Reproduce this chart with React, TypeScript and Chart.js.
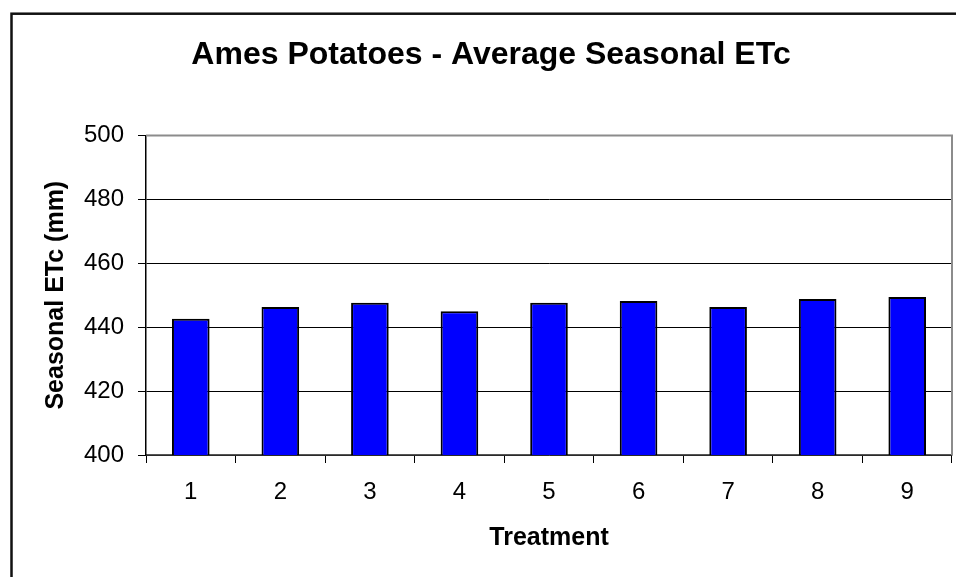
import React, { useEffect, useRef } from "react";
import { Chart, registerables } from "chart.js";

Chart.register(...registerables);

const categories = ["1", "2", "3", "4", "5", "6", "7", "8", "9"];
const seasonalETc = [442.6, 446.3, 447.6, 445.0, 447.6, 448.2, 446.3, 448.8, 449.4];
const yTicks = [400, 420, 440, 460, 480, 500];

const FONT = "'Liberation Sans', Arial, Helvetica, sans-serif";

const framePlugin = {
  id: "frame",
  beforeDraw(chart: any) {
    const ctx = chart.ctx;
    ctx.save();
    ctx.strokeStyle = "#111";
    ctx.lineWidth = 2.5;
    ctx.strokeRect(11.5, 13.7, 2000, 2000);
    ctx.restore();
  },
  beforeDatasetsDraw(chart: any) {
    const { ctx, chartArea } = chart;
    ctx.save();
    ctx.strokeStyle = "#8c8c8c";
    ctx.lineWidth = 2;
    ctx.beginPath();
    ctx.moveTo(chartArea.left, chartArea.top);
    ctx.lineTo(chartArea.right, chartArea.top);
    ctx.lineTo(chartArea.right, chartArea.bottom);
    ctx.stroke();
    ctx.restore();
  },
};

export default function App() {
  const ref = useRef<HTMLCanvasElement | null>(null);

  useEffect(() => {
    if (!ref.current) return;
    Chart.defaults.font.family = FONT;
    const chart = new Chart(ref.current, {
      type: "bar",
      data: {
        labels: categories,
        datasets: [
          {
            label: "Seasonal ETc",
            data: seasonalETc,
            backgroundColor: "#0000FF",
            borderColor: "#000000",
            borderWidth: 2,
            barPercentage: 0.42,
            categoryPercentage: 1,
          },
        ],
      },
      options: {
        responsive: false,
        animation: false,
        layout: { padding: { left: 30, right: 4, top: 0, bottom: 0 } },
        plugins: {
          legend: { display: false },
          tooltip: { enabled: false },
          title: {
            display: true,
            text: "Ames Potatoes - Average Seasonal ETc",
            color: "#000",
            font: { size: 32, weight: "bold", family: FONT },
            padding: { top: 36, bottom: 61 },
          },
        },
        scales: {
          x: {
            offset: true,
            grid: {
              display: true,
              offset: true,
              drawOnChartArea: false,
              drawTicks: true,
              tickLength: 8,
              color: "#000",
              lineWidth: 1,
            },
            border: { display: true, color: "#555", width: 1.5 },
            ticks: {
              color: "#000",
              font: { size: 24, family: FONT },
              padding: 15,
              maxRotation: 0,
            },
            title: {
              display: true,
              text: "Treatment",
              color: "#000",
              font: { size: 25, weight: "bold", family: FONT },
              padding: { top: 0, bottom: 24 },
            },
            afterFit(scale: any) {
              scale.height = 122;
            },
          },
          y: {
            min: 400,
            max: 500,
            afterBuildTicks(scale: any) {
              scale.ticks = yTicks.map((v) => ({ value: v }));
            },
            grid: {
              display: true,
              drawTicks: true,
              tickLength: 8,
              color: (c: any) => (c.tick && c.tick.value === 500 ? "rgba(0,0,0,0)" : "#000"),
              tickColor: "#000",
              lineWidth: 1,
            },
            border: { display: true, color: "#000", width: 1.5 },
            ticks: {
              color: "#000",
              font: { size: 24, family: FONT },
              padding: 14,
            },
            title: {
              display: true,
              text: "Seasonal ETc (mm)",
              color: "#000",
              font: { size: 25, weight: "bold", family: FONT },
              padding: { top: 11, bottom: 0 },
            },
            afterFit(scale: any) {
              scale.width = 116;
            },
          },
        },
      },
      plugins: [framePlugin],
    });
    return () => chart.destroy();
  }, []);

  return (
    <div style={{ position: "absolute", left: 0, top: 0, width: 956, height: 577, background: "#fff" }}>
      <canvas ref={ref} width={956} height={577} style={{ width: 956, height: 577, display: "block" }} />
    </div>
  );
}
